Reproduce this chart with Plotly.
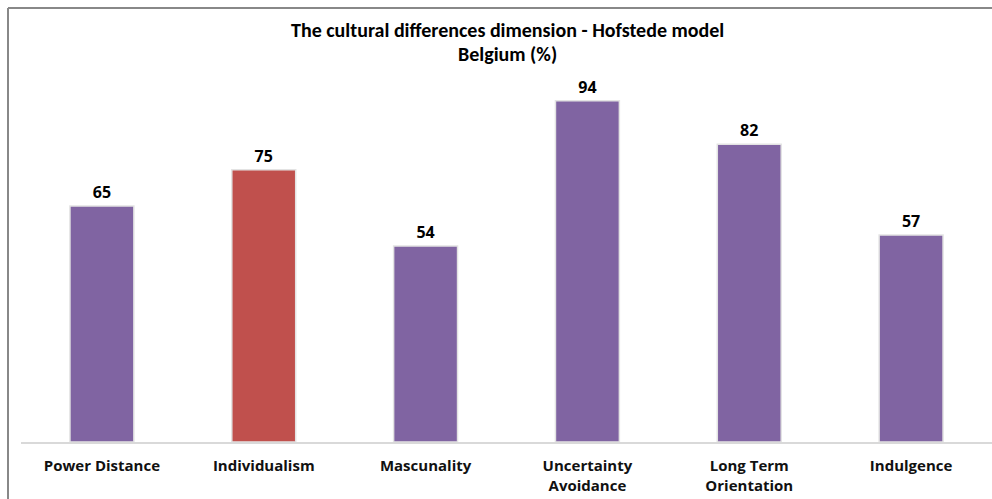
import plotly.graph_objects as go

categories = ["Power Distance", "Individualism", "Mascunality",
              "Uncertainty<br>Avoidance", "Long Term<br>Orientation", "Indulgence"]
values = [65, 75, 54, 94, 82, 57]
bar_colors = ["#8064A2", "#C0504D", "#8064A2", "#8064A2", "#8064A2", "#8064A2"]

W, H = 992, 499
L, R, T, B = 21, 0, 79, 57
pw, ph = W - L - R, H - T - B

def px_x(p):
    return (p - L) / pw

def px_y(p):
    return (H - B - p) / ph

title_font = "Carlito, Calibri, sans-serif"
body_font = "'Open Sans', sans-serif"

fig = go.Figure()
fig.add_trace(go.Bar(
    x=categories, y=values,
    marker=dict(color=bar_colors, line=dict(color="#e3e3e3", width=1.5)),
    width=0.395,
    text=["<b>%d</b>" % v for v in values], textposition="outside",
    textfont=dict(family=body_font, size=16, color="#000000"),
    cliponaxis=False,
))

fig.update_layout(
    width=W, height=H,
    margin=dict(l=L, r=R, t=T, b=B),
    paper_bgcolor="white", plot_bgcolor="white",
    showlegend=False,
    font=dict(family=body_font, color="#000000"),
    xaxis=dict(showgrid=False, showline=True, linecolor="#d9d9d9", linewidth=2,
               ticks="", tickfont=dict(family=body_font, size=15, color="#111111"),
               ticklabelstandoff=9,
               range=[-0.5, 5.5], fixedrange=True),
    yaxis=dict(range=[0, 100], showgrid=False, showticklabels=False, zeroline=False,
               showline=False, ticks=""),
    annotations=[
        dict(text="<b>The cultural differences dimension - Hofstede model</b>",
             xref="paper", yref="paper", x=0.5015, y=px_y(30), showarrow=False,
             font=dict(family=title_font, size=20, color="#000000"),
             xanchor="center", yanchor="middle"),
        dict(text="<b>Belgium (%)</b>",
             xref="paper", yref="paper", x=0.5015, y=px_y(54), showarrow=False,
             font=dict(family=title_font, size=20, color="#000000"),
             xanchor="center", yanchor="middle"),
    ],
    shapes=[
        dict(type="line", xref="paper", yref="paper",
             x0=px_x(8), x1=px_x(8), y0=px_y(499), y1=px_y(8),
             line=dict(color="#888888", width=2)),
        dict(type="line", xref="paper", yref="paper",
             x0=px_x(8), x1=px_x(992), y0=px_y(8), y1=px_y(8),
             line=dict(color="#888888", width=2)),
    ],
)
fig.update_xaxes(tickprefix="<b>", ticksuffix="</b>")

fig.write_html("out.html")
